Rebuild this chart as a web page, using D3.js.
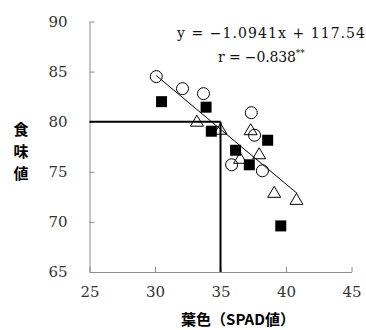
<!DOCTYPE html>
<html><head><meta charset="utf-8">
<script src="https://cdn.jsdelivr.net/npm/d3@7"></script>
<style>body{margin:0;background:#fff}svg{display:block}</style>
</head><body>
<svg id="c" width="366" height="330"></svg>
<script>
const xTicks = [25, 30, 35, 40, 45];
const yTicks = [65, 70, 75, 80, 85, 90];
const circleX = [30.1, 32.1, 33.7, 37.35, 37.6, 35.85, 38.2];
const circleY = [84.5, 83.3, 82.8, 80.9, 78.65, 75.7, 75.1];
const squareX = [30.5, 33.9, 34.3, 38.6, 36.15, 37.2, 39.6];
const squareY = [82.0, 81.45, 79.05, 78.15, 77.15, 75.7, 69.6];
const triX = [33.2, 35.0, 37.3, 37.95, 36.5, 39.1, 40.8];
const triY = [80.0, 79.2, 79.15, 76.75, 76.3, 72.9, 72.2];
const slope = -1.0941, intercept = 117.54;
const fitRange = [30.1, 40.85];
const refX = 35, refY = 80;
const eqText = "y = \u22121.0941x + 117.54";
const rText = "r = \u22120.838";
const xLabel = "葉色（SPAD値）";
const yLabel = ["食", "味", "値"];

const svg = d3.select("#c");
const x = d3.scaleLinear().domain([25, 45]).range([89.5, 351.5]);
const y = d3.scaleLinear().domain([65, 90]).range([272, 21.5]);
const serif = "DejaVu Serif";
const axisColor = "#8c8c8c";

// axes
const xAxis = svg.append("g").attr("transform", `translate(0,${y(65)})`)
  .call(d3.axisBottom(x).tickValues(xTicks).tickSize(-5).tickSizeOuter(0).tickPadding(14));
const yAxis = svg.append("g").attr("transform", `translate(${x(25)},0)`)
  .call(d3.axisLeft(y).tickValues(yTicks).tickSize(-5).tickSizeOuter(0).tickPadding(22));
[xAxis, yAxis].forEach(g => {
  g.attr("font-family", serif).attr("font-size", 15);
  g.select(".domain").attr("stroke", axisColor);
  g.selectAll(".tick line").attr("stroke", axisColor);
  g.selectAll(".tick text").attr("fill", "#333");
});
xAxis.selectAll(".tick text").attr("dy", "0.71em");

// reference lines
svg.append("line").attr("x1", x(25)).attr("x2", x(refX)).attr("y1", y(refY)).attr("y2", y(refY))
  .attr("stroke", "#000").attr("stroke-width", 2);
svg.append("line").attr("x1", x(refX)).attr("x2", x(refX)).attr("y1", y(refY)).attr("y2", y(65))
  .attr("stroke", "#000").attr("stroke-width", 2);

// markers
svg.append("g").selectAll("rect").data(d3.range(squareX.length)).join("rect")
  .attr("x", i => x(squareX[i]) - 5.5).attr("y", i => y(squareY[i]) - 5.5)
  .attr("width", 11).attr("height", 11).attr("fill", "#000");
const tri = "M0,-6.5L6.5,4.5L-6.5,4.5Z";
svg.append("g").selectAll("path").data(d3.range(triX.length)).join("path")
  .attr("d", tri).attr("transform", i => `translate(${x(triX[i])},${y(triY[i])})`)
  .attr("fill", "none").attr("stroke", "#000").attr("stroke-width", 1);
svg.append("g").selectAll("circle").data(d3.range(circleX.length)).join("circle")
  .attr("cx", i => x(circleX[i])).attr("cy", i => y(circleY[i])).attr("r", 6)
  .attr("fill", "none").attr("stroke", "#000").attr("stroke-width", 1);

// regression line
svg.append("line")
  .attr("x1", x(fitRange[0])).attr("y1", y(slope * fitRange[0] + intercept))
  .attr("x2", x(fitRange[1])).attr("y2", y(slope * fitRange[1] + intercept))
  .attr("stroke", "#000").attr("stroke-width", 1);

// equation text
svg.append("text").attr("x", 177).attr("y", 37.5).attr("textLength", 188).attr("lengthAdjust", "spacing")
  .attr("font-family", serif).attr("font-size", 14).attr("fill", "#111").text(eqText);
const rt = svg.append("text").attr("x", 218).attr("y", 62)
  .attr("font-family", serif).attr("font-size", 14).attr("fill", "#111");
rt.append("tspan").attr("textLength", 78).attr("lengthAdjust", "spacing").text(rText);
rt.append("tspan").attr("dy", -6).attr("font-size", 9).text("**");

// axis titles
svg.append("text").attr("x", 238).attr("y", 325).attr("text-anchor", "middle")
  .attr("font-family", "Noto Sans CJK JP").attr("font-size", 15).attr("font-weight", "bold")
  .text(xLabel);
svg.append("g").selectAll("text").data(yLabel).join("text")
  .attr("x", 21).attr("y", (d, i) => 135 + i * 22).attr("text-anchor", "middle")
  .attr("font-family", "Noto Sans CJK JP").attr("font-size", 15).attr("font-weight", "bold")
  .text(d => d);
</script>
</body></html>
